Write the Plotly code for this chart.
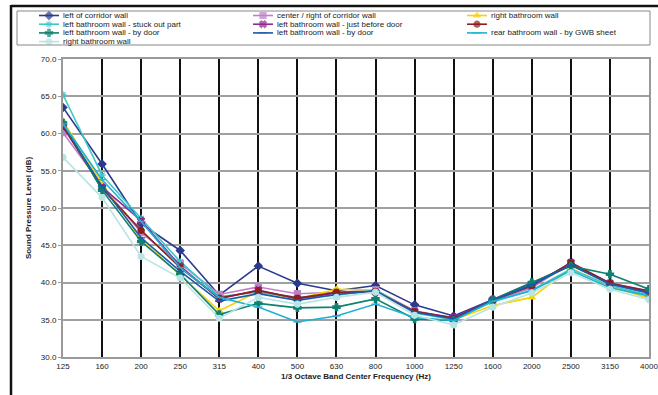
import plotly.graph_objects as go

freqs = ["125", "160", "200", "250", "315", "400", "500", "630", "800",
         "1000", "1250", "1600", "2000", "2500", "3150", "4000"]

series_names = [
    "left of corridor wall",
    "center / right of corridor wall",
    "right bathroom wall",
    "left bathroom wall - stuck out part",
    "left bathroom wall - just before door",
    "",
    "left bathroom wall - by door",
    "left bathroom wall - by door",
    "rear bathroom wall - by GWB sheet",
    "right bathroom wall",
]

left_corridor = [63.5, 55.9, 47.9, 44.3, 38.3, 42.2, 39.9, 38.9, 39.6, 37.0, 35.5, 37.7, 39.9, 42.4, 39.8, 38.6]
center_corridor = [60.1, 53.0, 46.7, 42.6, 38.4, 39.4, 38.5, 38.7, 39.0, 36.2, 35.2, 37.5, 39.3, 42.6, 39.9, 38.5]
right_bath_a = [61.7, 53.3, 45.8, 41.0, 36.2, 38.8, 37.8, 39.1, 39.0, 36.0, 35.0, 36.9, 38.0, 41.9, 39.5, 37.9]
left_bath_stuck = [65.2, 54.4, 48.6, 42.8, 38.1, 38.7, 38.0, 38.3, 39.0, 35.9, 35.0, 37.4, 39.0, 41.8, 39.6, 38.3]
left_bath_before = [60.9, 52.8, 48.3, 42.2, 37.8, 39.0, 37.8, 38.6, 38.7, 36.1, 35.3, 37.7, 39.5, 42.7, 39.9, 38.9]
unnamed_series = [61.0, 52.6, 47.0, 42.0, 37.9, 38.9, 37.9, 38.7, 38.8, 36.1, 35.2, 37.6, 39.6, 42.6, 39.9, 38.8]
left_bath_door_a = [61.4, 52.4, 45.5, 41.1, 35.7, 37.2, 36.6, 36.7, 37.8, 35.1, 34.9, 37.7, 40.0, 42.2, 41.1, 39.1]
left_bath_door_b = [61.2, 52.9, 46.0, 41.5, 37.5, 38.5, 37.6, 38.4, 38.9, 36.0, 35.1, 37.6, 39.7, 42.3, 39.8, 38.6]
rear_bath_gwb = [61.3, 53.8, 48.2, 42.0, 38.0, 36.7, 34.7, 35.5, 37.1, 35.3, 34.9, 37.5, 38.9, 41.6, 39.3, 38.2]
right_bath_b = [56.8, 51.4, 43.5, 40.6, 35.2, 38.0, 37.1, 38.0, 38.7, 35.6, 34.3, 36.7, 38.6, 41.3, 39.1, 37.7]

series_values = [left_corridor, center_corridor, right_bath_a, left_bath_stuck,
                 left_bath_before, unnamed_series, left_bath_door_a, left_bath_door_b,
                 rear_bath_gwb, right_bath_b]

colors = ["#2a3a8c", "#c080c8", "#f8d400", "#40c8c8", "#902a90",
          "#8c2020", "#108070", "#1a5aaa", "#20b0d4", "#b8e4e4"]
symbols = ["diamond", "square", "triangle-up", "asterisk-open", "x",
           "circle", "cross", "line-ew-open", "line-ew-open", "circle"]

y_ticks = [30, 35, 40, 45, 50, 55, 60, 65, 70]

W, H = 658, 395
ml, mr, mt, mb = 10, 9, 5, 38
pw = W - ml - mr
ph = H - mt - mb


def px(x):
    return (x - ml) / pw


def py(y):
    return (H - mb - y) / ph


font_family = "Liberation Sans, Arial, sans-serif"
txt_color = "#222222"

fig = go.Figure()

for name, vals, col, sym in zip(series_names, series_values, colors, symbols):
    fig.add_trace(go.Scatter(
        x=freqs, y=vals, mode="lines+markers", name=name,
        line=dict(color=col, width=1.6),
        marker=dict(symbol=sym, size=6, color=col, line=dict(color=col, width=1.2)),
        showlegend=False, xaxis="x", yaxis="y",
    ))

# custom compact legend (3 columns, row-wise)
annotations = []
for i, (name, col, sym) in enumerate(zip(series_names, colors, symbols)):
    r, c = divmod(i, 3)
    x0 = 39 + 214 * c
    yr = 15.5 + 8.7 * r
    fig.add_trace(go.Scatter(
        x=[x0, x0 + 10, x0 + 20], y=[yr, yr, yr], mode="lines+markers",
        line=dict(color=col, width=1.6),
        marker=dict(symbol=sym, size=[0, 6, 0], color=col, line=dict(color=col, width=1.2)),
        showlegend=False, hoverinfo="skip", xaxis="x2", yaxis="y2",
    ))
    annotations.append(dict(
        x=x0 + 22, y=yr, xref="x2", yref="y2", text=name, showarrow=False,
        xanchor="left", yanchor="middle",
        font=dict(family=font_family, size=8, color=txt_color),
    ))

shapes = [
    dict(type="rect", xref="paper", yref="paper", x0=px(17), x1=px(650), y0=py(45), y1=py(11),
         line=dict(color="#888888", width=1), fillcolor="rgba(0,0,0,0)", layer="above"),
    dict(type="line", xref="paper", yref="paper", x0=px(11), x1=px(658), y0=py(6), y1=py(6),
         line=dict(color="#111111", width=2.5)),
    dict(type="line", xref="paper", yref="paper", x0=px(11), x1=px(11), y0=py(5), y1=py(395),
         line=dict(color="#111111", width=2.5)),
]

fig.update_layout(
    width=W, height=H,
    margin=dict(l=ml, r=mr, t=mt, b=mb, autoexpand=False),
    paper_bgcolor="white", plot_bgcolor="rgba(0,0,0,0)",
    font=dict(family=font_family, size=8, color=txt_color),
    xaxis=dict(
        domain=[px(63), 1], type="category", range=[0, 15], automargin=False,
        showgrid=True, gridcolor="#111111", gridwidth=2,
        showline=True, linecolor="#999999", linewidth=2, mirror=True,
        ticks="", tickfont=dict(size=8, color=txt_color),
        title=dict(text="<b>1/3 Octave Band Center Frequency (Hz)</b>",
                   font=dict(size=8, color=txt_color), standoff=4),
        zeroline=False, fixedrange=True,
    ),
    yaxis=dict(
        domain=[0, py(59)], range=[30, 70], tickvals=y_ticks, tickformat=".1f", automargin=False,
        showgrid=True, gridcolor="#a0a0a0", gridwidth=2,
        showline=True, linecolor="#999999", linewidth=2, mirror=True,
        ticks="outside", ticklen=3, tickcolor="#999999",
        tickfont=dict(size=8, color=txt_color),
        title=dict(text="<b>Sound Pressure Level (dB)</b>",
                   font=dict(size=8, color=txt_color), standoff=8),
        zeroline=False, fixedrange=True,
    ),
    xaxis2=dict(domain=[0, 1], range=[ml, W - mr], anchor="y2", visible=False,
                fixedrange=True, automargin=False),
    yaxis2=dict(domain=[0, 1], range=[H - mb, mt], anchor="x2", visible=False,
                fixedrange=True, automargin=False),
    annotations=annotations,
    shapes=shapes,
    showlegend=False,
)

fig.write_html(
    "out.html",
    config={"displayModeBar": False},
    post_script="document.body.style.margin='0';document.body.style.overflow='hidden';",
)
